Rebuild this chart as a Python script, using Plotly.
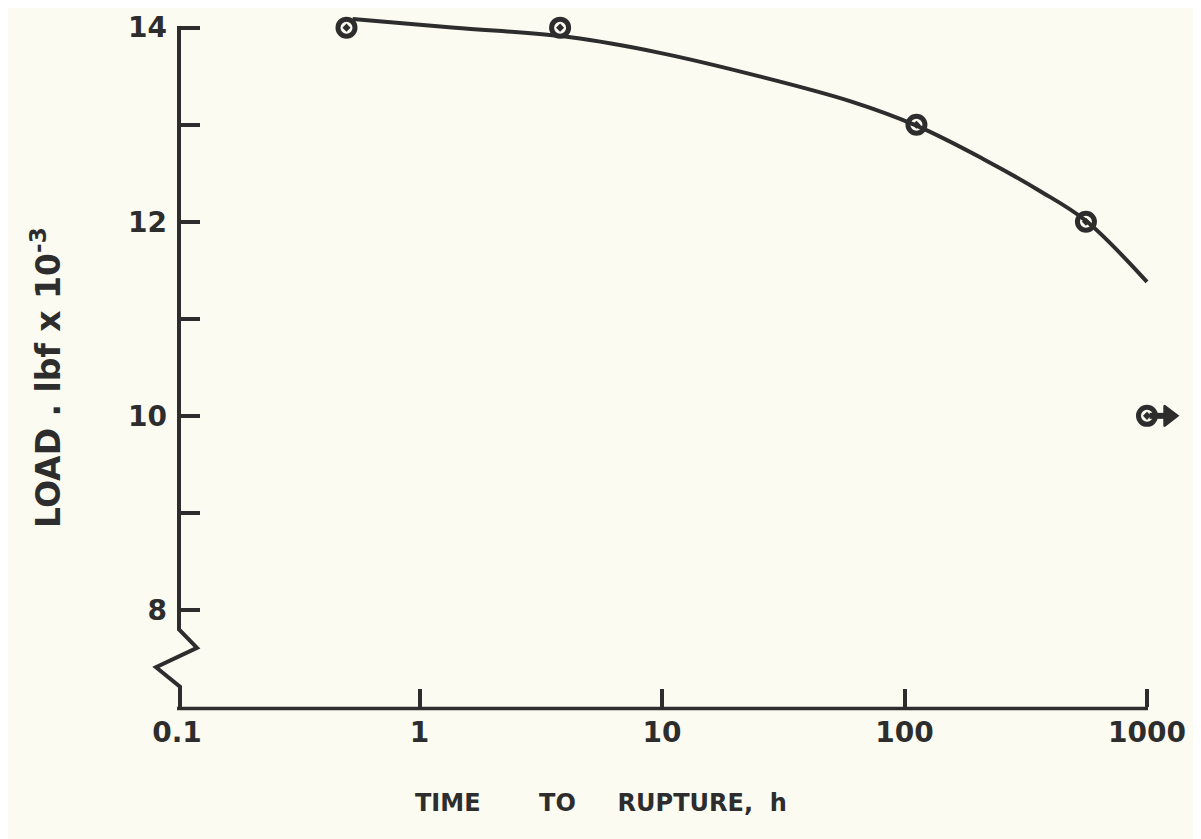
import plotly.graph_objects as go

# ---- data ----
time_h = [0.5, 3.8, 112, 560]          # ruptured specimens
load_k = [14, 14, 13, 12]
runout_time = [1000]                    # did not rupture (arrow)
runout_load = [10]
curve_time = [0.53, 1.4, 4.2, 9.8, 25, 60, 112, 210, 360, 560, 1000]
curve_load = [14.09, 14.0, 13.90, 13.74, 13.50, 13.24, 12.99, 12.65, 12.32, 12.01, 11.38]

x_tickvals = [0.1, 1, 10, 100, 1000]
x_ticktext = ["0.1", "1", "10", "100", "1000"]
y_tickvals = [8, 9, 10, 11, 12, 13, 14]
y_ticktext = ["8", "", "10", "", "12", "", "14"]

INK = "#2d2d2d"
BG = "#fbfbf2"
FONT = "DejaVu Sans"

# layout geometry (figure pixels)
W, H = 1201, 839
L, R, T, B = 169, 8, 4, 140
DECADE_PX = 242.5
plot_w = W - L - R
plot_h = H - T - B
X0 = -1.0
X_AXIS_END = 3.0                       # x axis line stops at 1000 h
X1 = X0 + plot_w / DECADE_PX
Y0, Y1 = 7.0, 14.12

fig = go.Figure()
fig.add_trace(go.Scatter(x=curve_time, y=curve_load, mode="lines",
                         line=dict(color=INK, width=4, shape="spline", smoothing=1.0),
                         hoverinfo="skip", showlegend=False))
fig.add_trace(go.Scatter(x=time_h, y=load_k, mode="markers", cliponaxis=False,
                         marker=dict(symbol="circle-open-dot", size=17, color=INK,
                                     line=dict(color=INK, width=5)),
                         showlegend=False))
# run-out arrow (neck + head), to the right of the run-out point
neck_offset, head_offset = 1.11, 1.23
fig.add_trace(go.Scatter(x=[t * neck_offset for t in runout_time], y=runout_load,
                         mode="markers", cliponaxis=False, hoverinfo="skip",
                         marker=dict(symbol="line-ew", size=12, color=INK,
                                     line=dict(color=INK, width=6)),
                         showlegend=False))
fig.add_trace(go.Scatter(x=[t * head_offset for t in runout_time], y=runout_load,
                         mode="markers", cliponaxis=False, hoverinfo="skip",
                         marker=dict(symbol="triangle-right", size=18, color=INK,
                                     line=dict(color=INK, width=2)),
                         showlegend=False))
fig.add_trace(go.Scatter(x=runout_time, y=runout_load, mode="markers", cliponaxis=False,
                         marker=dict(symbol="circle-open-dot", size=17, color=INK,
                                     line=dict(color=INK, width=5)),
                         showlegend=False))

# helpers for paper coordinates
def py(v):
    return (v - Y0) / (Y1 - Y0)

def pxd(dx_pixels):
    return dx_pixels / plot_w

x_end = (X_AXIS_END - X0) / (X1 - X0)

# x axis line from 0.1 to 1000
fig.add_shape(type="line", xref="paper", yref="paper", x0=0, x1=x_end + pxd(1),
              y0=-1.5 / plot_h, y1=-1.5 / plot_h, line=dict(color=INK, width=3.5))
# y axis line with break zig-zag
path = (f"M {pxd(2)},{py(14.0)} L {pxd(2)},{py(7.80)} L {pxd(20)},{py(7.61)} "
        f"L {pxd(-21)},{py(7.41)} L {pxd(3)},{py(7.21)} L {pxd(3)},{-1.5 / plot_h}")
fig.add_shape(type="path", xref="paper", yref="paper", path=path,
              line=dict(color=INK, width=4))

sp = "&nbsp;"
fig.add_annotation(text="TIME" + sp * 7 + "TO" + sp * 5 + "RUPTURE," + sp * 2 + "h",
                   xref="paper", yref="paper", x=(593 - L) / plot_w,
                   y=-(796 - (H - B)) / plot_h, showarrow=False,
                   xanchor="center", yanchor="middle",
                   font=dict(family=FONT, size=24, color=INK, weight="bold"))
fig.add_annotation(text="LOAD" + sp + "." + sp + "lbf" + sp + "x" + sp
                        + "10<sup>-3</sup>",
                   xref="paper", yref="paper", x=-(L - 39) / plot_w,
                   y=1 - (368 - T) / plot_h, showarrow=False, textangle=-90,
                   xanchor="center", yanchor="middle",
                   font=dict(family=FONT, size=33, color=INK, weight="bold"))

fig.update_layout(
    width=W, height=H,
    margin=dict(l=L, r=R, t=T, b=B),
    paper_bgcolor=BG, plot_bgcolor=BG,
    font=dict(family=FONT, color=INK),
    xaxis=dict(type="log", range=[X0, X1], showgrid=False, zeroline=False,
               showline=False,
               ticks="inside", ticklen=18, tickwidth=4, tickcolor=INK,
               tickvals=x_tickvals, ticktext=x_ticktext, ticklabelstandoff=6,
               ticklabeloverflow="allow",
               tickfont=dict(family=FONT, size=28, color=INK, weight="bold")),
    yaxis=dict(range=[Y0, Y1], showgrid=False, zeroline=False, showline=False,
               ticks="inside", ticklen=23, tickwidth=4, tickcolor=INK,
               tickvals=y_tickvals, ticktext=y_ticktext, ticklabelstandoff=9,
               ticklabeloverflow="allow",
               tickfont=dict(family=FONT, size=28, color=INK, weight="bold")),
)

fig.write_html("out.html")
